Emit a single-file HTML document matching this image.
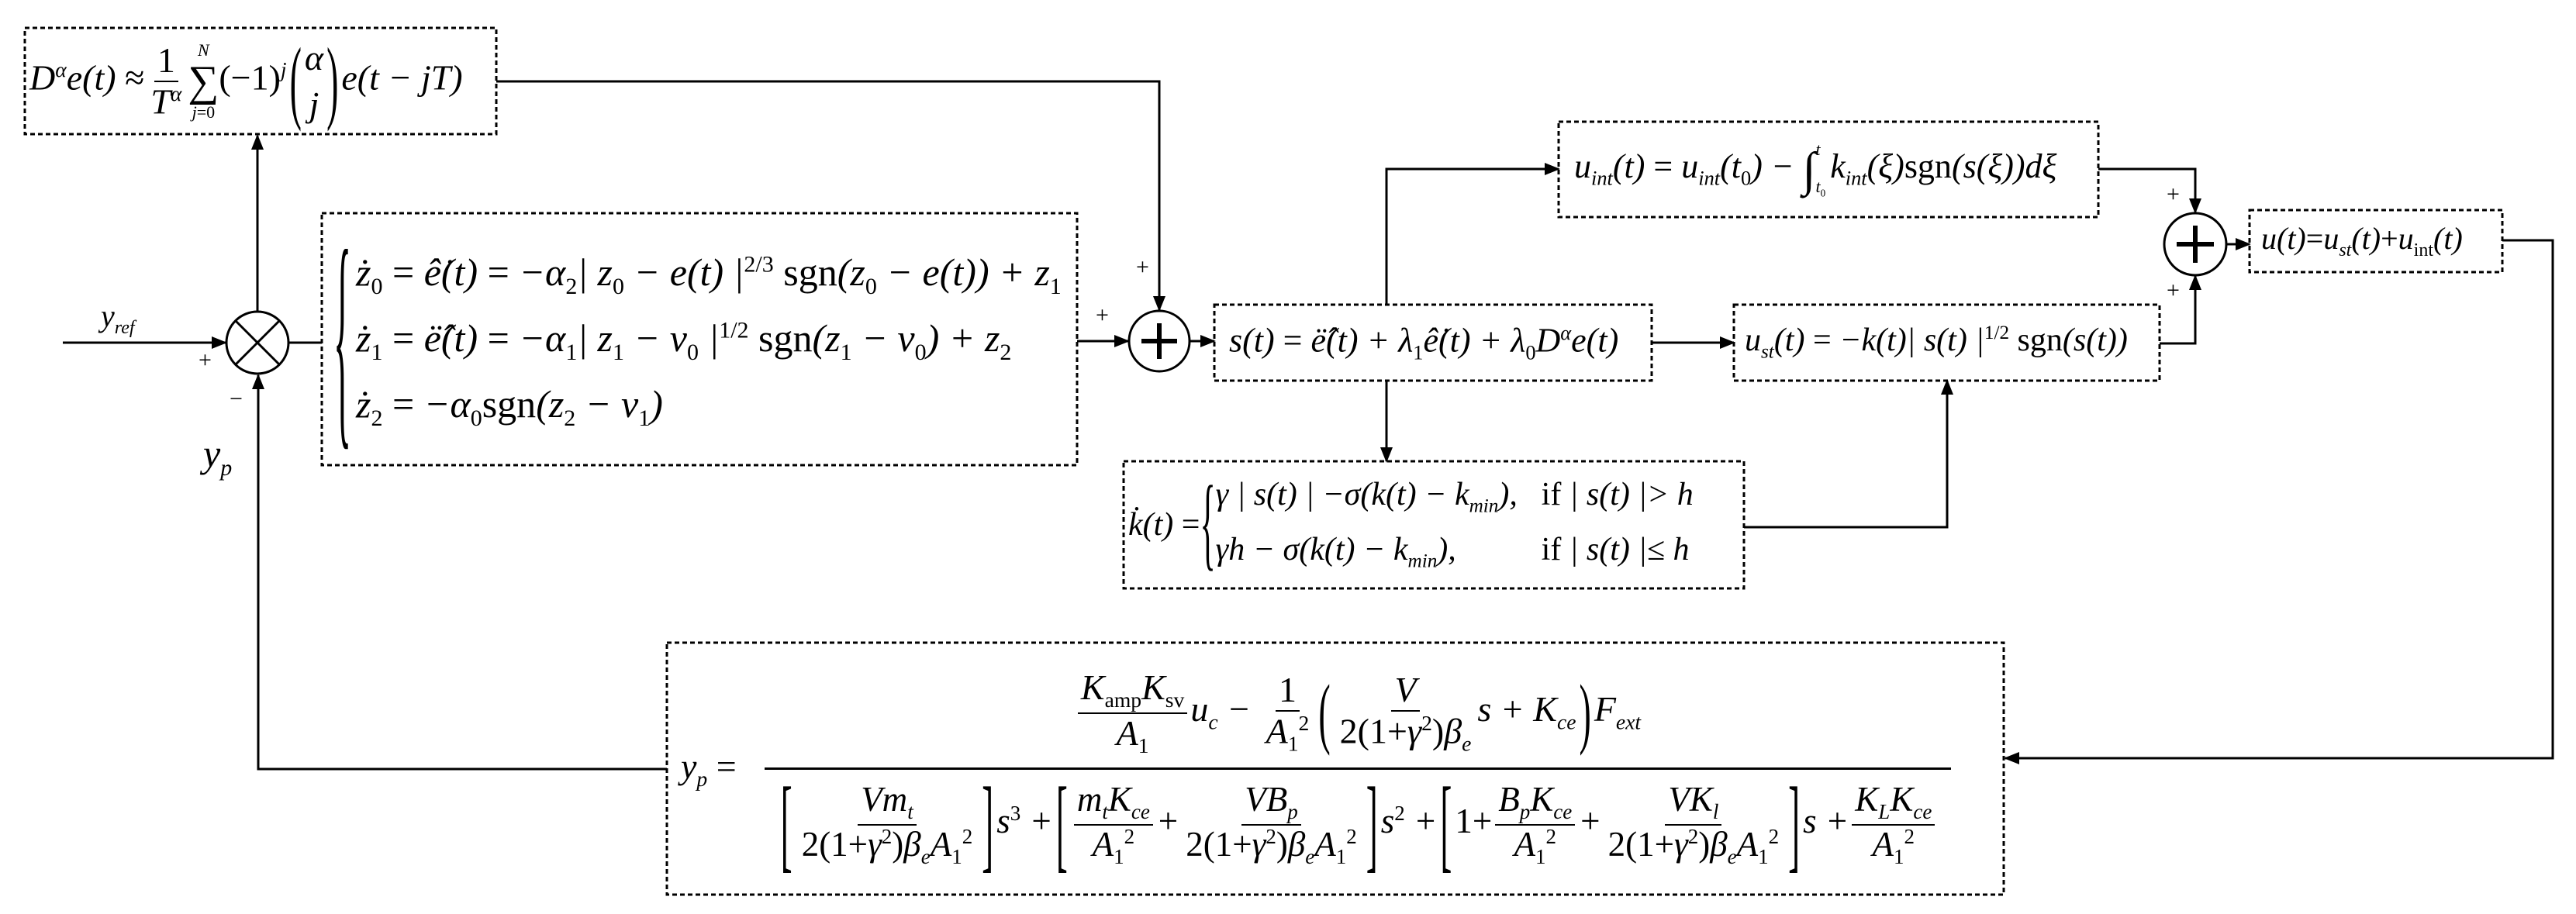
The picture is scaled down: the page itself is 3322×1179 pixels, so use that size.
<!DOCTYPE html>
<html><head><meta charset="utf-8">
<style>
body{margin:0;background:#fff;}
#c{position:relative;width:3322px;height:1179px;overflow:hidden;background:#fff;font-family:"Liberation Serif",serif;color:#000;}
svg{position:absolute;left:0;top:0;}
.t{position:absolute;white-space:nowrap;font-style:italic;line-height:1;display:flex;align-items:center;}
.t>div{white-space:nowrap;}
.r{font-style:normal;}
.fr{display:inline-flex;flex-direction:column;align-items:center;vertical-align:middle;margin:0 4px;}
.fr>span{display:block;padding:0 4px;text-align:center;line-height:1.1;}
.fr>span:first-child{border-bottom:2px solid #000;}
sub,sup{font-size:60%;}
.br{font-style:normal;display:inline-block;transform:scaleY(2.2);margin:0 4px;vertical-align:middle;}
.lab{position:absolute;font-family:"Liberation Serif",serif;line-height:1;}
</style></head><body><div id="c">
<svg width="3322" height="1179" viewBox="0 0 3322 1179">
<defs>
<marker id="b" markerWidth="20" markerHeight="20" refX="18" refY="10" orient="auto" markerUnits="userSpaceOnUse" viewBox="0 0 20 20"><path d="M0,2 L20,10 L0,18 z" fill="#000"/></marker></defs>
<g fill="none" stroke="#000" stroke-width="3" stroke-dasharray="6 4">
<rect x="32" y="36" width="608" height="137"/>
<rect x="415" y="275" width="974" height="325"/>
<rect x="1566" y="393" width="564" height="98"/>
<rect x="2010" y="157" width="696" height="123"/>
<rect x="2236" y="393" width="549" height="98"/>
<rect x="1449" y="595" width="800" height="164"/>
<rect x="2901" y="271" width="326" height="80"/>
<rect x="860" y="829" width="1724" height="325"/>
</g>
<g fill="none" stroke="#000" stroke-width="3">
<circle cx="332" cy="442" r="40"/>
<line x1="304" y1="414" x2="360" y2="470"/><line x1="360" y1="414" x2="304" y2="470"/>
<circle cx="1495" cy="440" r="39"/>
<line x1="1472" y1="440" x2="1518" y2="440" stroke-width="6"/><line x1="1495" y1="417" x2="1495" y2="463" stroke-width="6"/>
<circle cx="2831" cy="315" r="40"/>
<line x1="2807" y1="315" x2="2855" y2="315" stroke-width="6"/><line x1="2831" y1="291" x2="2831" y2="339" stroke-width="6"/>
<polyline points="81,442 291,442" marker-end="url(#b)"/>
<polyline points="332,402 332,175" marker-end="url(#b)"/>
<polyline points="860,992 333,992 333,484" marker-end="url(#b)"/>
<polyline points="372,442 415,442"/>
<polyline points="640,105 1495,105 1495,400" marker-end="url(#b)"/>
<polyline points="1389,440 1455,440" marker-end="url(#b)"/>
<polyline points="1534,440 1566,440" marker-end="url(#b)"/>
<polyline points="1788,393 1788,218 2010,218" marker-end="url(#b)"/>
<polyline points="2130,442 2236,442" marker-end="url(#b)"/>
<polyline points="1788,491 1788,595" marker-end="url(#b)"/>
<polyline points="2249,680 2511,680 2511,491" marker-end="url(#b)"/>
<polyline points="2706,218 2831,218 2831,274" marker-end="url(#b)"/>
<polyline points="2785,443 2831,443 2831,356" marker-end="url(#b)"/>
<polyline points="2871,315 2901,315" marker-end="url(#b)"/>
<polyline points="3227,310 3292,310 3292,978 2586,978" marker-end="url(#b)"/>
</g>
</svg>

<div class="lab" style="left:130px;top:388px;font-size:40px;font-style:italic">y<sub>ref</sub></div>
<div class="lab" style="left:256px;top:450px;font-size:30px">+</div>
<div class="lab" style="left:296px;top:500px;font-size:30px">−</div>
<div class="lab" style="left:262px;top:560px;font-size:50px;font-style:italic">y<sub>p</sub></div>
<div class="lab" style="left:1465px;top:330px;font-size:30px">+</div>
<div class="lab" style="left:1413px;top:392px;font-size:30px">+</div>
<div class="lab" style="left:2794px;top:236px;font-size:30px">+</div>
<div class="lab" style="left:2794px;top:360px;font-size:30px">+</div>

<div class="t" style="left:38px;top:40px;height:130px;font-size:46px"><div>D<sup>α</sup>e(t) <span class="r">≈</span><span class="fr"><span class="r">1</span><span>T<sup>α</sup></span></span><span style="display:inline-flex;flex-direction:column;align-items:center;font-size:22px;vertical-align:middle;line-height:1.1"><span>N</span><span class="r" style="font-size:56px;line-height:1">∑</span><span>j<span class="r">=0</span></span></span><span class="r">(−1)</span><sup>j</sup><span class="br" style="transform:scaleY(2.6)">(</span><span style="display:inline-flex;flex-direction:column;align-items:center;line-height:1.3;vertical-align:middle"><span>α</span><span>j</span></span><span class="br" style="transform:scaleY(2.6)">)</span>e(t − jT)</div></div>

<div class="t" style="left:430px;top:290px;height:300px;font-size:50px">
<span class="r" style="display:inline-block;transform:scaleY(6.5);font-size:48px;margin-right:6px">{</span>
<div style="display:flex;flex-direction:column;gap:26px">
<div>ż<sub class="r">0</sub> <span class="r">=</span> ê̇(t) <span class="r">=</span> −α<sub class="r">2</sub>| z<sub class="r">0</sub> − e(t) |<sup class="r">2/3</sup> <span class="r">sgn</span>(z<sub class="r">0</sub> − e(t)) + z<sub class="r">1</sub></div>
<div>ż<sub class="r">1</sub> <span class="r">=</span> ë̂(t) <span class="r">=</span> −α<sub class="r">1</sub>| z<sub class="r">1</sub> − v<sub class="r">0</sub> |<sup class="r">1/2</sup> <span class="r">sgn</span>(z<sub class="r">1</sub> − v<sub class="r">0</sub>) + z<sub class="r">2</sub></div>
<div>ż<sub class="r">2</sub> <span class="r">=</span> −α<sub class="r">0</sub><span class="r">sgn</span>(z<sub class="r">2</sub> − v<sub class="r">1</sub>)</div>
</div></div>

<div class="t" style="left:1585px;top:395px;height:94px;font-size:44px"><div>s(t) <span class="r">=</span> ë̂(t) + λ<sub class="r">1</sub>ê̇(t) + λ<sub class="r">0</sub>D<sup>α</sup>e(t)</div></div>

<div class="t" style="left:2030px;top:160px;height:118px;font-size:44px"><div>u<sub>int</sub>(t) <span class="r">=</span> u<sub>int</sub>(t<sub class="r">0</sub>) − <span class="r" style="font-size:62px;vertical-align:middle">∫</span><span style="display:inline-flex;flex-direction:column;font-size:22px;margin-right:6px;vertical-align:middle"><span>t</span><span style="margin-top:26px">t<sub class="r">0</sub></span></span>k<sub>int</sub>(ξ)<span class="r">sgn</span>(s(ξ))dξ</div></div>

<div class="t" style="left:2250px;top:395px;height:94px;font-size:42px"><div>u<sub>st</sub>(t) <span class="r">=</span> −k(t)| s(t) |<sup class="r">1/2</sup> <span class="r">sgn</span>(s(t))</div></div>

<div class="t" style="left:1455px;top:598px;height:158px;font-size:42px"><span>k̇(t) <span class="r">=</span></span><span class="r" style="display:inline-block;transform:scaleY(3.2)">{</span>
<div style="display:flex;flex-direction:column;gap:22px">
<div style="display:flex"><span style="width:420px">γ | s(t) | −σ(k(t) − k<sub>min</sub>),</span><span><span class="r">if</span> | s(t) |&gt; h</span></div>
<div style="display:flex"><span style="width:420px">γh − σ(k(t) − k<sub>min</sub>),</span><span><span class="r">if</span> | s(t) |≤ h</span></div>
</div></div>

<div class="t" style="left:2916px;top:273px;height:76px;font-size:40px"><div>u(t)<span class="r">=</span>u<sub>st</sub>(t)<span class="r">+</span>u<sub class="r">int</sub>(t)</div></div>

<div class="t" style="left:878px;top:972px;height:40px;font-size:46px"><div>y<sub>p</sub> <span class="r">=</span></div></div>
<div style="position:absolute;left:986px;top:990px;width:1530px;height:3px;background:#000"></div>
<div class="t" style="left:986px;top:852px;width:1530px;height:136px;justify-content:center;font-size:46px"><div>
<span class="fr"><span>K<sub class="r">amp</sub>K<sub class="r">sv</sub></span><span>A<sub class="r">1</sub></span></span>u<sub>c</sub> − <span class="fr"><span class="r">1</span><span>A<sub class="r">1</sub><sup class="r">2</sup></span></span><span class="br">(</span><span class="fr"><span>V</span><span><span class="r">2(1+</span>γ<sup class="r">2</sup><span class="r">)</span>β<sub>e</sub></span></span>s + K<sub>ce</sub><span class="br">)</span>F<sub>ext</sub></div></div>
<div class="t" style="left:986px;top:996px;width:1530px;height:136px;justify-content:center;font-size:45px"><div>
<span class="br" style="transform:scaleY(3)">[</span><span class="fr"><span>Vm<sub>t</sub></span><span><span class="r">2(1+</span>γ<sup class="r">2</sup><span class="r">)</span>β<sub>e</sub>A<sub class="r">1</sub><sup class="r">2</sup></span></span><span class="br" style="transform:scaleY(3)">]</span>s<sup class="r">3</sup> +<span class="br" style="transform:scaleY(3)">[</span><span class="fr"><span>m<sub>t</sub>K<sub>ce</sub></span><span>A<sub class="r">1</sub><sup class="r">2</sup></span></span>+<span class="fr"><span>VB<sub>p</sub></span><span><span class="r">2(1+</span>γ<sup class="r">2</sup><span class="r">)</span>β<sub>e</sub>A<sub class="r">1</sub><sup class="r">2</sup></span></span><span class="br" style="transform:scaleY(3)">]</span>s<sup class="r">2</sup> +<span class="br" style="transform:scaleY(3)">[</span><span class="r">1+</span><span class="fr"><span>B<sub>p</sub>K<sub>ce</sub></span><span>A<sub class="r">1</sub><sup class="r">2</sup></span></span>+<span class="fr"><span>VK<sub>l</sub></span><span><span class="r">2(1+</span>γ<sup class="r">2</sup><span class="r">)</span>β<sub>e</sub>A<sub class="r">1</sub><sup class="r">2</sup></span></span><span class="br" style="transform:scaleY(3)">]</span>s +<span class="fr"><span>K<sub>L</sub>K<sub>ce</sub></span><span>A<sub class="r">1</sub><sup class="r">2</sup></span></span></div></div>
</div></body></html>
